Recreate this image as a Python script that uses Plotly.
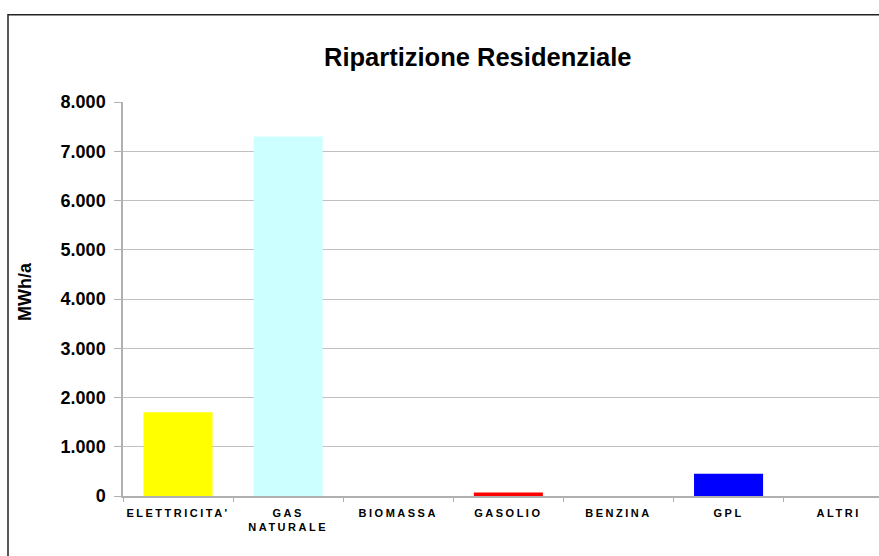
import plotly.graph_objects as go

categories = ["ELETTRICITA'", "GAS<br>NATURALE", "BIOMASSA", "GASOLIO", "BENZINA", "GPL", "ALTRI"]
values = [1700, 7300, 0, 70, 0, 450, 0]
bar_colors = ["#FFFF00", "#CCFFFF", "#808080", "#FF0000", "#808080", "#0000FF", "#808080"]
y_ticks = [0, 1000, 2000, 3000, 4000, 5000, 6000, 7000, 8000]

W, H = 879, 556
L, R_px, T, B = 123, 879, 101.5, 496.5
pw, ph = R_px - L, B - T
cat_w = 110.1

def px_x(x):
    return (x - L) / pw

def px_y(y):
    return (B - y) / ph

font_fam = "Liberation Sans, Arial, sans-serif"

fig = go.Figure(go.Bar(
    x=categories, y=values, marker=dict(color=bar_colors, line=dict(width=0)),
    hoverinfo="x+y",
))

fig.update_layout(
    width=W, height=H,
    margin=dict(l=L, r=W - R_px, t=T, b=H - B, pad=0),
    paper_bgcolor="white", plot_bgcolor="white",
    separators=",.",
    bargap=0.373,
    showlegend=False,
    font=dict(family=font_fam, color="black"),
)

fig.update_xaxes(
    type="category",
    range=[-0.5, -0.5 + pw / cat_w],
    showline=True, linecolor="#b0b0b0", linewidth=1.5,
    ticks="outside", tickson="boundaries", ticklen=4, tickcolor="#b0b0b0", tickwidth=1,
    showgrid=False,
    tickfont=dict(family=font_fam, size=11, color="black", weight="bold"),
    ticklabelstandoff=6,
)

fig.update_yaxes(
    range=[0, 8000],
    tickvals=y_ticks, tickformat=",d",
    showline=True, linecolor="#b0b0b0", linewidth=1.5,
    ticks="outside", ticklen=7, tickcolor="#b0b0b0", tickwidth=1,
    showgrid=True, gridcolor="#c0c0c0", gridwidth=1,
    zeroline=False,
    tickfont=dict(family=font_fam, size=18, color="black", weight="bold"),
    ticklabelstandoff=5,
)

fig.add_annotation(
    text="<b>Ripartizione Residenziale</b>", xref="paper", yref="paper",
    x=px_x(478), y=px_y(56), xanchor="center", yanchor="middle",
    showarrow=False, font=dict(family=font_fam, size=25.5, color="black"),
)

fig.add_annotation(
    text="<b>MWh/a</b>", xref="paper", yref="paper",
    x=px_x(25), y=px_y(292), xanchor="center", yanchor="middle", textangle=-90,
    showarrow=False, font=dict(family=font_fam, size=18, color="black"),
)

fig.add_shape(
    type="rect", xref="paper", yref="paper",
    x0=px_x(8), x1=px_x(1000), y0=px_y(700), y1=px_y(14),
    line=dict(color="#222222", width=1.5), fillcolor="rgba(0,0,0,0)", layer="above",
)

post = (
    "document.body.style.margin='0';"
    "document.body.style.overflow='hidden';"
    "var s=document.createElement('style');"
    "s.textContent='.xtick text{letter-spacing:2.5px}';"
    "document.head.appendChild(s);"
)

fig.write_html("out.html", post_script=post, config={"displayModeBar": False})
